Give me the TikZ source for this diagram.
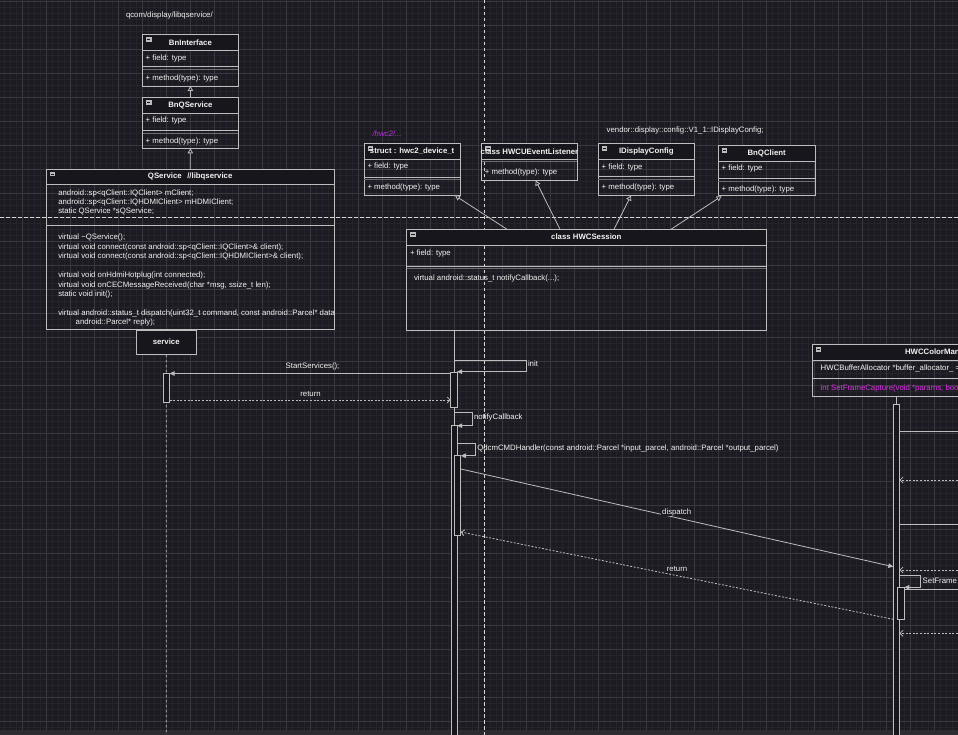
\documentclass[tikz,border=0pt]{standalone}
\usepackage{fontspec}
\setmainfont{Liberation Sans}
\usetikzlibrary{arrows.meta,calc}
\definecolor{bgcol}{HTML}{1C1B22}
\definecolor{gridminor}{HTML}{25242C}
\definecolor{gridmajor}{HTML}{393841}
\definecolor{hdrcol}{HTML}{17161C}
\definecolor{linecol}{HTML}{BDBDBD}
\definecolor{dimline}{HTML}{6E6D74}
\definecolor{guidecol}{HTML}{D8D8D8}
\definecolor{txtcol}{HTML}{F2F2F2}
\definecolor{magcol}{HTML}{E030E8}
\definecolor{hwcmag}{HTML}{C02CE6}
\definecolor{barcol}{HTML}{2C2C31}
\tikzset{
 mtxt/.style={font=\fontsize{7.8}{9.45}\selectfont, text=txtcol, inner sep=0pt, outer sep=0pt},
 txt/.style={mtxt, text height=5.6pt},
 lt/.style={txt, anchor=west},
 ttl/.style={txt, font=\fontsize{7.8}{9.45}\selectfont\bfseries},
 clsbox/.style={draw=linecol, line width=0.9pt, inner sep=0pt, outer sep=0pt},
 sepline/.style={draw=linecol, line width=0.8pt},
 sepdim/.style={draw=dimline, line width=0.7pt},
 act/.style={draw=linecol, fill=hdrcol, line width=0.8pt, inner sep=0pt, outer sep=0pt, minimum width=6.2pt, anchor=north west},
 msg/.style={draw=linecol, line width=0.8pt, -{Triangle[length=5pt,width=4.5pt]}},
 ret/.style={draw=linecol, line width=0.8pt, dash pattern=on 2pt off 1.6pt, -{Straight Barb[length=3pt,width=6pt]}},
 inh/.style={draw=linecol, line width=0.8pt, -{Triangle[open,length=5pt,width=5.5pt,fill=bgcol]}},
 guide/.style={draw=guidecol, line width=0.8pt, dash pattern=on 3.5pt off 2.5pt},
 lifed/.style={draw=linecol, line width=0.8pt, dash pattern=on 2.5pt off 2.5pt},
 life/.style={draw=linecol, line width=0.8pt},
 plain/.style={draw=linecol, line width=0.8pt},
 onbg/.style={fill=bgcol, inner xsep=1pt}
}
\newcommand\umlcls[7]{%
 \fill[hdrcol] (#2,#3) rectangle ++(#4,#6);
 \node[clsbox, anchor=north west, minimum width=#4pt, minimum height=#5pt] (#1) at (#2,#3) {};
 \draw[sepline] ($(#1.north west)+(0,#6)$) -- ($(#1.north east)+(0,#6)$);
 \fill[linecol] ($(#1.north west)+(3.5,2.8)$) rectangle ++(5.5,4.6);
 \draw[hdrcol, line width=0.7pt] ($(#1.north west)+(4.7,5.1)$) -- ++(3.1,0);
 \node[ttl] (#1-t) at ($(#1.north west)+(#4/2,#6/2)$) {#7};
}
\newcommand\sepduo[4]{% name, xleft, xright, y
 \draw[sepline] (#2,#4) -- (#3,#4);
 \draw[sepdim] (#2,#4+2.3) -- (#3,#4+2.3);
}
\begin{document}
\begin{tikzpicture}[x=1pt,y=-1pt]
\useasboundingbox (0,0) rectangle (958,735);
\fill[bgcol] (0,0) rectangle (958,735);
\foreach \x in {4,10,...,958} \draw[gridminor, line width=0.5pt] (\x,0) -- (\x,735);
\foreach \y in {1,7,...,735} \draw[gridminor, line width=0.5pt] (0,\y) -- (958,\y);
\foreach \x in {22,46,...,958} \draw[gridmajor, line width=0.6pt] (\x,0) -- (\x,735);
\foreach \y in {1,25,...,735} \draw[gridmajor, line width=0.6pt] (0,\y) -- (958,\y);
\fill[barcol] (0,730) rectangle (958,735);

% guide lines
\coordinate (gTop) at (484.3,0); \coordinate (gBot) at (484.3,735);
\coordinate (gL) at (0,217.3); \coordinate (gR) at (958,217.3);
\draw[guide] (gTop) -- (gBot);
\draw[guide] (gL) -- (gR);

% ---------- libqservice side ----------
\node[lt] (pathlbl) at (126,15.5) {qcom/display/libqservice/};

\umlcls{bni}{142.5}{34.3}{95.8}{51.7}{16.4}{BnInterface}
\node[lt] (bnif) at (145.7,58.5) {+ field: type};
\sepduo{bni}{142.5}{238.3}{66.7}
\node[lt] (bnim) at (145.7,78.5) {+ method(type): type};

\umlcls{bnq}{142.5}{97.3}{95.8}{51}{16}{BnQService}
\node[lt] (bnqf) at (145.7,121) {+ field: type};
\sepduo{bnq}{142.5}{238.3}{130.7}
\node[lt] (bnqm) at (145.7,141.3) {+ method(type): type};

\umlcls{qs}{46}{169}{288.3}{160}{15.3}{QService\hspace*{5.5pt}//libqservice}
\draw[sepline] (46,225) -- (334.3,225);
\begin{scope}
\clip (46,169) rectangle (334.3,329);
\node[mtxt, anchor=north west, align=left] (qsf) at (58.3,189.4) {android::sp<qClient::IQClient> mClient;\\android::sp<qClient::IQHDMIClient> mHDMIClient;\\static QService *sQService;};
\node[mtxt, anchor=north west, align=left] (qsm) at (58.3,234.1) {virtual \textasciitilde QService();\\virtual void connect(const android::sp<qClient::IQClient>\& client);\\virtual void connect(const android::sp<qClient::IQHDMIClient>\& client);\\[9.45pt]virtual void onHdmiHotplug(int connected);\\virtual void onCECMessageReceived(char *msg, ssize\_t len);\\static void init();\\[9.45pt]virtual android::status\_t dispatch(uint32\_t command, const android::Parcel* data\\\hspace*{17.4pt}android::Parcel* reply);};
\end{scope}

\draw[inh] (bnq.north) -- (bni.south);
\draw[inh] (qs.north) -- (bnq.south);

\node[draw=linecol, fill=hdrcol, line width=0.9pt, minimum width=60.3pt, minimum height=24.3pt, inner sep=0pt] (svc) at (166.2,342.2) {};
\node[ttl] (svct) at (svc.center) {service};

% ---------- hwc side classes ----------
\node[lt, font=\fontsize{7.8}{9.45}\selectfont\itshape, text=hwcmag] (hwclbl) at (372.5,133.5) {/hwc2/...};
\umlcls{hwc2}{364}{143.3}{96.3}{51.7}{16}{struct : hwc2\_device\_t}
\node[lt] (hwc2f) at (367.5,167) {+ field: type};
\sepduo{hwc2}{364}{460.3}{177.3}
\node[lt] (hwc2m) at (367.5,188) {+ method(type): type};

\umlcls{hwcu}{481.7}{143.3}{95.6}{36.7}{16}{class HWCUEventListener}
\draw[sepdim] (481.7,161.5) -- (577.3,161.5);
\node[lt] (hwcum) at (484.8,172.7) {+ method(type): type};

\node[lt] (vndlbl) at (606.7,130.7) {vendor::display::config::V1\_1::IDisplayConfig;};
\umlcls{idc}{598.3}{143.3}{96}{51.7}{16}{IDisplayConfig}
\node[lt] (idcf) at (601.7,167.7) {+ field: type};
\sepduo{idc}{598.3}{694.3}{176.7}
\node[lt] (idcm) at (601.7,188) {+ method(type): type};

\umlcls{bnqc}{718.3}{145.7}{96.7}{50}{16}{BnQClient}
\node[lt] (bnqcf) at (721.7,169) {+ field: type};
\sepduo{bnqc}{718.3}{815}{178.7}
\node[lt] (bnqcm) at (721.7,189.7) {+ method(type): type};

\umlcls{hwcs}{406.7}{229.3}{359.3}{100.7}{15.7}{class HWCSession}
\node[lt] (hwcsf) at (410,253.3) {+ field: type};
\sepduo{hwcs}{406.7}{766}{266}
\node[lt] (hwcsm) at (414,278.7) {virtual android::status\_t notifyCallback(...);};

% inheritance from HWCSession
\coordinate (hs1) at (507,229.3); \coordinate (hs2) at (560,229.3);
\coordinate (hs3) at (614,229.3); \coordinate (hs4) at (671,229.3);
\coordinate (t1) at (455,195.5); \coordinate (t2) at (535.7,180.5);
\coordinate (t3) at (631,195.5); \coordinate (t4) at (721.5,196.2);
\draw[inh] (hs1) -- (t1);
\draw[inh] (hs2) -- (t2);
\draw[inh] (hs3) -- (t3);
\draw[inh] (hs4) -- (t4);

% HWCColorManager (cut by right edge)
\umlcls{hwccm}{812.3}{344.3}{256.4}{51.7}{15.7}{}
\node[ttl, anchor=west] (hwccmt) at (905,352.2) {HWCColorMan};
\node[lt] (hwccmf) at (820.7,368.3) {HWCBufferAllocator *buffer\_allocator\_ =};
\draw[sepline] (812.3,378.3) -- (958,378.3);
\node[lt, text=magcol] (hwccmm) at (820.7,389) {int SetFrameCapture(void *params, boo};

% ---------- sequence ----------
% service lifeline
\coordinate (svcBot) at (166.3,735);
\draw[lifed] (svc.south) -- (svcBot);
\node[act, minimum height=28.6pt] (act1) at (163.3,373.7) {};

% HWCSession lifeline
\coordinate (hsL) at (454.3,330); \coordinate (hsBot) at (454.3,735);
\draw[life] (hsL) -- (hsBot);
% init loop
\coordinate (i0) at (454.3,360); \coordinate (i1) at (526,360);
\coordinate (i2) at (526,371.7); \coordinate (i3) at (457,371.7);
\node[act, minimum height=35.3pt] (actA) at (450.7,372) {};
\draw[msg] (i0) -- (i1) -- (i2) -- (i3);
\node[lt] (initl) at (528,364) {init};

% StartServices / return
\coordinate (s0) at (450.7,373.5); \coordinate (s1) at (169.6,373.5);
\draw[msg] (s0) -- (s1);
\node[txt] (startl) at (312.5,366.7) {StartServices();};
\coordinate (r0) at (169.6,400); \coordinate (r1) at (450.7,400);
\draw[ret] (r0) -- (r1);
\node[txt] (ret1l) at (310.5,393.3) {return};

% notifyCallback loop
\node[act, minimum height=320pt] (actB) at (451,425.7) {};
\coordinate (n0) at (454.3,412.3); \coordinate (n1) at (472.3,412.3);
\coordinate (n2) at (472.3,425.7); \coordinate (n3) at (457.2,425.7);
\draw[msg] (n0) -- (n1) -- (n2) -- (n3);
\node[lt] (notl) at (474,417.5) {notifyCallback};

% QdcmCMDHandler loop
\node[act, minimum height=79.6pt] (actC) at (454.6,455.7) {};
\coordinate (q0) at (457.2,443.3); \coordinate (q1) at (475.7,443.3);
\coordinate (q2) at (475.7,455.7); \coordinate (q3) at (460.8,455.7);
\draw[msg] (q0) -- (q1) -- (q2) -- (q3);
\node[lt] (qdcml) at (477.3,449) {QdcmCMDHandler(const android::Parcel *input\_parcel, android::Parcel *output\_parcel)};

% HWCColorManager lifeline
\coordinate (cmTop) at (896.3,396); \coordinate (cmAct) at (896.3,404.3);
\draw[life] (cmTop) -- (cmAct);
\node[act, minimum height=340pt] (actD) at (893.3,404.3) {};

% dispatch / return
\coordinate (d0) at (460.8,469); \coordinate (d1) at (893.3,566.7);
\draw[msg] (d0) -- (d1);
\node[txt, onbg] (displ) at (676.7,512.3) {dispatch};
\coordinate (e0) at (893.3,619.3); \coordinate (e1) at (460.8,532);
\draw[ret] (e0) -- (e1);
\node[txt, onbg] (ret2l) at (677,568.7) {return};

% right-side messages (cut by the edge)
\coordinate (o1a) at (899.5,431.7); \coordinate (o1b) at (958,431.7);
\draw[plain] (o1a) -- (o1b);
\coordinate (o2a) at (958,480); \coordinate (o2b) at (899.5,480);
\draw[ret] (o2a) -- (o2b);
\coordinate (o3a) at (899.5,524.3); \coordinate (o3b) at (958,524.3);
\draw[plain] (o3a) -- (o3b);
\coordinate (o4a) at (958,570); \coordinate (o4b) at (899.5,570);
\draw[ret] (o4a) -- (o4b);
\node[act, minimum height=32pt, minimum width=7pt] (actE) at (897.3,587.3) {};
\coordinate (f0) at (899.5,575); \coordinate (f1) at (920.7,575);
\coordinate (f2) at (920.7,587.3); \coordinate (f3) at (904.3,587.3);
\draw[msg] (f0) -- (f1) -- (f2) -- (f3);
\node[lt] (setfl) at (922.7,581) {SetFrame};
\coordinate (o5a) at (904.3,589); \coordinate (o5b) at (958,589);
\draw[plain] (o5a) -- (o5b);
\coordinate (o6a) at (958,633.3); \coordinate (o6b) at (899.5,633.3);
\draw[ret] (o6a) -- (o6b);
\end{tikzpicture}
\end{document}
